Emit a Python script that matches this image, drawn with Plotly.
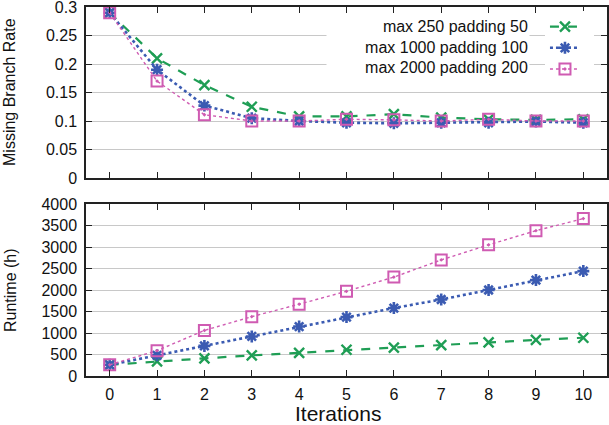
import plotly.graph_objects as go

iterations = [0, 1, 2, 3, 4, 5, 6, 7, 8, 9, 10]
series_names = ["max 250 padding 50", "max 1000 padding 100", "max 2000 padding 200"]

miss_250 = [0.29, 0.21, 0.163, 0.125, 0.108, 0.108, 0.112, 0.106, 0.103, 0.102, 0.103]
miss_1000 = [0.29, 0.19, 0.127, 0.105, 0.100, 0.097, 0.096, 0.097, 0.097, 0.099, 0.097]
miss_2000 = [0.29, 0.17, 0.111, 0.100, 0.100, 0.103, 0.102, 0.100, 0.103, 0.100, 0.100]

run_250 = [260, 340, 410, 480, 540, 610, 660, 720, 780, 840, 890]
run_1000 = [260, 480, 700, 920, 1150, 1370, 1580, 1780, 2000, 2230, 2440]
run_2000 = [260, 590, 1060, 1380, 1670, 1970, 2300, 2700, 3050, 3380, 3660]

miss_ticks = [0, 0.05, 0.1, 0.15, 0.2, 0.25, 0.3]
miss_labels = ["0", "0.05", "0.1", "0.15", "0.2", "0.25", "0.3"]
run_ticks = [0, 500, 1000, 1500, 2000, 2500, 3000, 3500, 4000]

styles = [
    dict(color="#1f9e55", dash="dash", width=2.2, symbol="x-thin-open", size=10, mlw=2.4),
    dict(color="#3b5bb2", dash="dot", width=2.6, symbol="asterisk-open", size=10, mlw=2.6),
    dict(color="#cf5bb2", dash="dot", width=1.4, symbol="square-open-dot", size=11, mlw=2.0),
]

FONT = "Liberation Sans, Arial, sans-serif"
W, H = 609, 425
ML, MR, MT, MB = 86, 2, 0, 49
PW, PH = W - ML - MR, H - MT - MB


def px_x(p):
    return (p - ML) / PW


def px_y(p):
    return (H - MB - p) / PH


fig = go.Figure()

for name, miss, run, st in zip(series_names, [miss_250, miss_1000, miss_2000],
                                [run_250, run_1000, run_2000], styles):
    common = dict(
        mode="lines+markers",
        line=dict(color=st["color"], dash=st["dash"], width=st["width"]),
        marker=dict(symbol=st["symbol"], size=st["size"], color=st["color"],
                    line=dict(color=st["color"], width=st["mlw"])),
    )
    fig.add_trace(go.Scatter(x=iterations, y=miss, xaxis="x", yaxis="y",
                             name=" ", legendgroup=name, showlegend=True, **common))
    fig.add_trace(go.Scatter(x=iterations, y=run, xaxis="x2", yaxis="y2",
                             name=name, legendgroup=name, showlegend=False, **common))

axis_common = dict(
    showline=True, linecolor="#222", linewidth=1.5, mirror="ticks",
    ticks="inside", ticklen=6, tickwidth=1.2, tickcolor="#222",
    zeroline=False, automargin=False, ticklabeloverflow="allow",
    tickfont=dict(family=FONT, size=16, color="#111"),
)

fig.update_layout(
    width=W, height=H,
    margin=dict(l=ML, r=MR, t=MT, b=MB),
    paper_bgcolor="white", plot_bgcolor="white",
    font=dict(family=FONT, color="#111"),
    xaxis=dict(domain=[0, 1], range=[-0.5, 10.5], tickvals=iterations, showticklabels=False,
               showgrid=False, anchor="y", **axis_common),
    yaxis=dict(domain=[px_y(178), px_y(7)], range=[0, 0.3], tickvals=miss_ticks,
               ticktext=miss_labels, showgrid=True, gridcolor="#c8c8c8", gridwidth=1,
               anchor="x", ticklabelstandoff=4, **axis_common),
    xaxis2=dict(domain=[0, 1], range=[-0.5, 10.5], tickvals=iterations,
                showgrid=False, anchor="y2", ticklabelstandoff=3, **axis_common),
    yaxis2=dict(domain=[0, px_y(204)], range=[0, 4000], tickvals=run_ticks,
                showgrid=True, gridcolor="#c8c8c8", gridwidth=1, anchor="x2",
                ticklabelstandoff=4, **axis_common),
    legend=dict(x=0.975, xanchor="right", y=px_y(11), yanchor="top",
                bgcolor="white", borderwidth=0,
                font=dict(family=FONT, size=14), itemwidth=30, tracegroupgap=0,
                itemclick=False),
    annotations=[
        dict(text="<br>".join(series_names), xref="paper", yref="paper",
             x=px_x(530), y=px_y(13), xanchor="right", yanchor="top",
             width=200, height=64, align="right", valign="middle",
             bgcolor="white", showarrow=False,
             font=dict(family=FONT, size=16, color="#111")),
        dict(text="Iterations", xref="paper", yref="paper",
             x=px_x(338), y=px_y(413), xanchor="center", yanchor="middle",
             showarrow=False, font=dict(family=FONT, size=21, color="#111")),
        dict(text="Missing Branch Rate", xref="paper", yref="paper", textangle=-90,
             x=px_x(10), y=px_y(92), xanchor="center", yanchor="middle",
             showarrow=False, font=dict(family=FONT, size=16, color="#111")),
        dict(text="Runtime (h)", xref="paper", yref="paper", textangle=-90,
             x=px_x(10), y=px_y(290), xanchor="center", yanchor="middle",
             showarrow=False, font=dict(family=FONT, size=16, color="#111")),
    ],
)

fig.write_html("out.html", config={"displayModeBar": False},
               post_script="document.body.style.margin='0px';")
